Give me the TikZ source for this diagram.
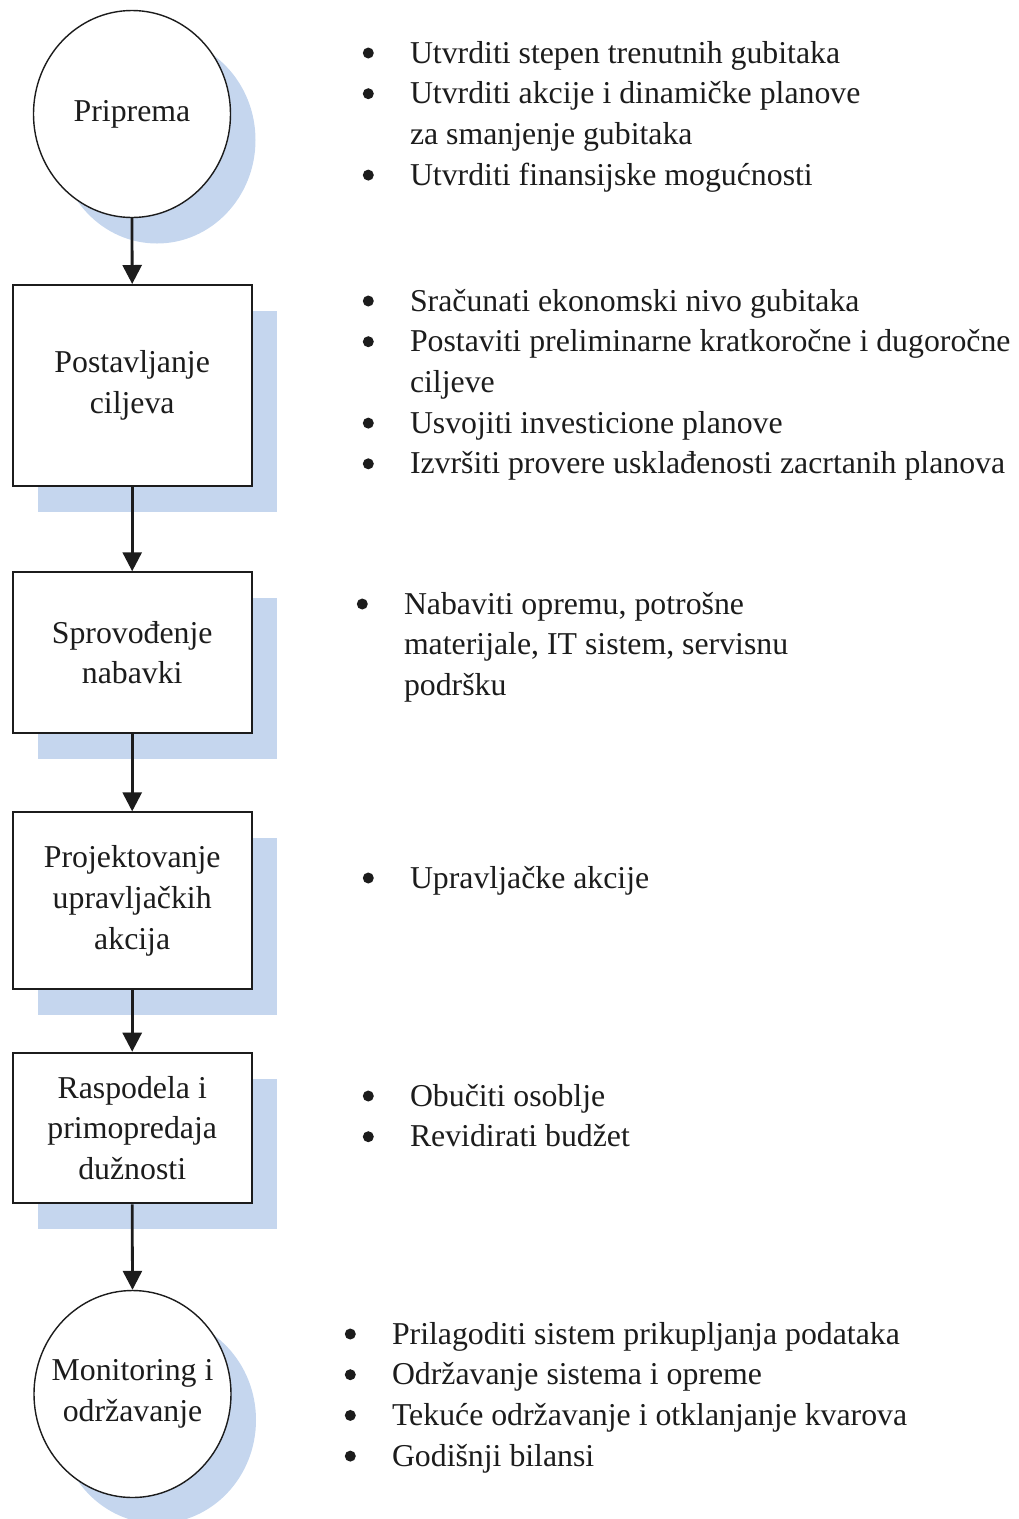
\documentclass[tikz,border=0pt]{standalone}
\usepackage{fontspec}
\usepackage{pict2e}
\setmainfont{Liberation Serif}
\usetikzlibrary{arrows.meta,shapes.geometric,shadows}

\definecolor{shadowblue}{RGB}{197,214,238}
\definecolor{ink}{RGB}{28,28,28}

% round bullet hanging to the left of a list line
\newcommand{\bitem}{{\setlength{\unitlength}{1pt}%
  \begin{picture}(0,0)\put(-41.7,10){\circle*{11}}\end{picture}}}
% stacked list lines; the box baseline is the first line's baseline
\newcommand{\listlines}[1]{\vtop{\halign{##\hfil\cr#1\crcr}}}

\begin{document}
\begin{tikzpicture}[x=1pt,y=-1pt,
  every node/.style={font=\fontsize{31.8}{40.7}\selectfont, text=ink},
  bluedrop/.style={drop shadow={shadow xshift=25pt, shadow yshift=-26pt,
      fill=shadowblue, opacity=1}},
  stepbox/.style={rectangle, draw=ink, line width=2pt, fill=white,
      minimum width=239pt, inner sep=0pt, align=center, bluedrop},
  terminal/.style={ellipse, draw=ink, line width=1.4pt, fill=white,
      minimum width=197pt, minimum height=207pt, inner sep=-40pt,
      align=center, bluedrop},
  flow/.style={draw=ink, line width=2.8pt,
      -{Triangle[length=19pt,width=19pt]}},
  notes/.style={anchor=base west, inner sep=0pt, outer sep=0pt}
]
\useasboundingbox (0,0) rectangle (1019,1519);

% process chain
\node[terminal] (prep) at (132,114) {Priprema};
\node[stepbox, minimum height=201pt] (goals) at (132.2,385.5)
  {Postavljanje\\ciljeva};
\node[stepbox, minimum height=160.5pt] (buy) at (132.2,652.5)
  {Sprovođenje\\nabavki};
\node[stepbox, minimum height=176.7pt] (design) at (132.2,900.7)
  {Projektovanje\\upravljačkih\\akcija};
\node[stepbox, minimum height=150.6pt] (duty) at (132.2,1128)
  {Raspodela i\\primopredaja\\dužnosti};
\node[terminal] (mon) at (132.5,1394) {Monitoring i\\održavanje};

\draw[flow] (prep.south) -- (goals.north);
\draw[flow] (goals.south) -- (buy.north);
\draw[flow] (buy.south) -- (design.north);
\draw[flow] (design.south) -- (duty.north);
\draw[flow] (duty.south) -- (mon.north);

% task lists beside each step
\node[notes] (prepnotes) at (410,63) {\listlines{%
  \bitem Utvrditi stepen trenutnih gubitaka\cr
  \bitem Utvrditi akcije i dinamičke planove\cr
  za smanjenje gubitaka\cr
  \bitem Utvrditi finansijske mogućnosti}};

\node[notes] (goalnotes) at (410,311) {\listlines{%
  \bitem Sračunati ekonomski nivo gubitaka\cr
  \bitem Postaviti preliminarne kratkoročne i dugoročne\cr
  ciljeve\cr
  \bitem Usvojiti investicione planove\cr
  \bitem Izvršiti provere usklađenosti zacrtanih planova}};

\node[notes] (buynotes) at (404,614) {\listlines{%
  \bitem Nabaviti opremu, potrošne\cr
  materijale, IT sistem, servisnu\cr
  podršku}};

\node[notes] (designnotes) at (410,888) {\listlines{%
  \bitem Upravljačke akcije}};

\node[notes] (dutynotes) at (410,1106) {\listlines{%
  \bitem Obučiti osoblje\cr
  \bitem Revidirati budžet}};

\node[notes] (monnotes) at (392,1344) {\listlines{%
  \bitem Prilagoditi sistem prikupljanja podataka\cr
  \bitem Održavanje sistema i opreme\cr
  \bitem Tekuće održavanje i otklanjanje kvarova\cr
  \bitem Godišnji bilansi}};
\end{tikzpicture}
\end{document}
